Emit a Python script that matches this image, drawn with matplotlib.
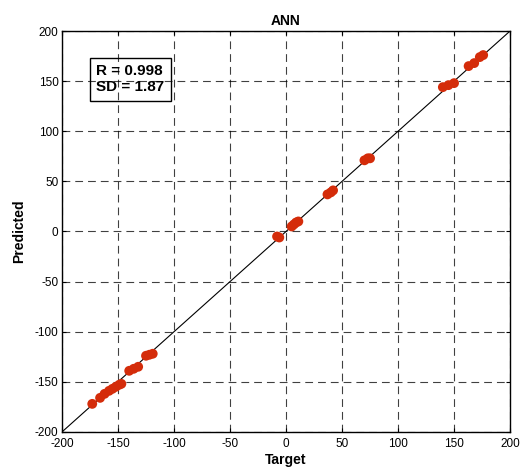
import matplotlib
matplotlib.use("Agg")
import matplotlib.pyplot as plt
import numpy as np

plt.rcParams['font.family'] = ['Liberation Sans', 'DejaVu Sans']
plt.rcParams['axes.unicode_minus'] = False

title = "ANN"
xlabel = "Target"
ylabel = "Predicted"
ticks = [-200, -150, -100, -50, 0, 50, 100, 150, 200]
stats_text = "R = 0.998\nSD = 1.87"

target = [-173, -166, -162, -158, -155, -152, -149, -147,
          -140, -136, -132, -125, -122, -119,
          -8, -6, 5, 7, 9, 11, 37, 40, 42, 70, 73, 75,
          140, 145, 150, 163, 168, 173, 176]
predicted = [-172, -166, -162, -159, -157, -155, -153, -152,
             -139, -137, -135, -124, -123, -122,
             -5, -6, 5, 7, 9, 10, 37, 39, 41, 71, 73, 73,
             144, 146, 148, 165, 168, 174, 176]
fit_line = [-200, 200]

fig = plt.figure(figsize=(5.21, 4.70), dpi=100)
ax = fig.add_axes([0.119, 0.081, 0.860, 0.853])

ax.grid(True, color='black', linestyle=(0, (7, 4.5)), linewidth=0.8, alpha=0.75)
ax.set_axisbelow(True)
ax.plot(fit_line, fit_line, color='black', linewidth=0.8, zorder=2)
ax.scatter(target, predicted, s=50, color='#d42c0a', edgecolors='none', zorder=3)

ax.set_xlim(-200, 200)
ax.set_ylim(-200, 200)
ax.set_xticks(ticks)
ax.set_yticks(ticks)
ax.tick_params(direction='in', length=3, labelsize=8.5, top=True, right=True)
ax.tick_params(axis='x', pad=4.5)
ax.tick_params(axis='y', pad=2.5)
for sp in ax.spines.values():
    sp.set_linewidth(1.0)

ax.set_title(title, fontsize=10, fontweight='bold', pad=4)
ax.set_xlabel(xlabel, fontsize=10, fontweight='bold', labelpad=2)
ax.set_ylabel(ylabel, fontsize=10, fontweight='bold', labelpad=6)

ax.text(0.077, 0.917, stats_text, transform=ax.transAxes, fontsize=11,
        fontweight='bold', va='top', ha='left', linespacing=1.2,
        bbox=dict(boxstyle='square,pad=0.4', facecolor='none',
                  edgecolor='black', linewidth=1.0), zorder=4)

fig.savefig("out.png", dpi=100)
